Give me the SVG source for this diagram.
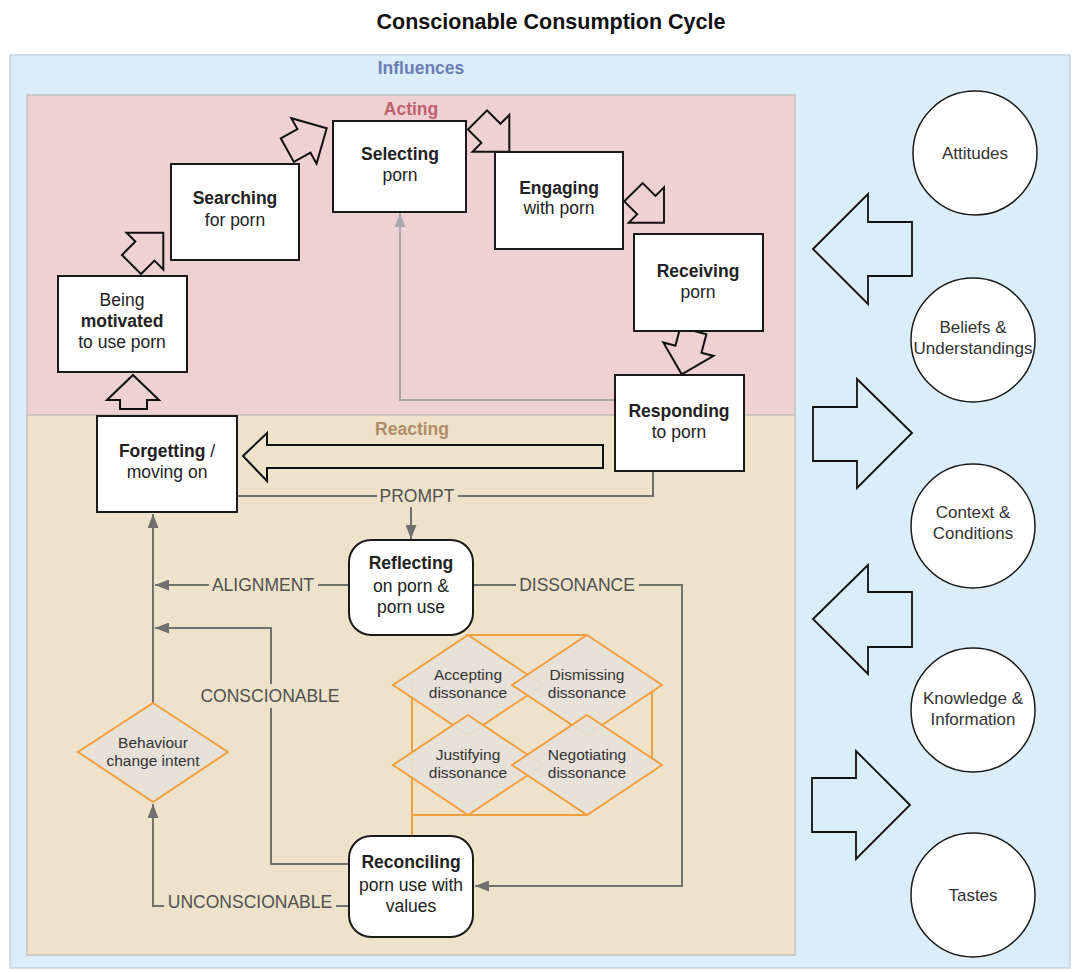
<svg xmlns="http://www.w3.org/2000/svg" xmlns:xlink="http://www.w3.org/1999/xlink" width="1075" height="972" viewBox="0 0 1075 972">
<style>
text{font-family:"Liberation Sans",Arial,sans-serif;}
.t{font-size:17.5px;fill:#222;text-anchor:middle;}
.b{font-weight:bold;}
.lbl{font-size:17.5px;fill:#505050;text-anchor:middle;}
.dt{font-size:15.5px;fill:#333;text-anchor:middle;}
.ct{font-size:17px;fill:#333;text-anchor:middle;}
.node{fill:#fff;stroke:#1a1a1a;stroke-width:2;}
.dia{fill:#e6e1d8;fill-opacity:0.9;stroke:#f0a040;stroke-width:2;}
.con{fill:none;stroke:#707070;stroke-width:2;}
.light{fill:none;stroke:#a8a8a8;stroke-width:2;}
.org{fill:none;stroke:#f0a040;stroke-width:2;}
.blk{fill:none;stroke:#111;stroke-width:2;stroke-linejoin:miter;}
.circ{fill:#fff;stroke:#1a1a1a;stroke-width:1.5;}
</style>
<defs>
<marker id="ah" viewBox="0 0 14 11" refX="14" refY="5.5" markerWidth="14" markerHeight="11" markerUnits="userSpaceOnUse" orient="auto"><path d="M0,0 L14,5.5 L0,11 Z" fill="#707070"/></marker>
<marker id="ahl" viewBox="0 0 14 11" refX="14" refY="5.5" markerWidth="14" markerHeight="11" markerUnits="userSpaceOnUse" orient="auto"><path d="M0,0 L14,5.5 L0,11 Z" fill="#a8a8a8"/></marker>
<path id="barrow" d="M0,0 L-26,-26 L-26,-13.5 L-45,-13.5 L-45,13.5 L-26,13.5 L-26,26 Z"/>
</defs>

<text x="551" y="29" style="font-size:21.5px;font-weight:bold;fill:#111;text-anchor:middle;">Conscionable Consumption Cycle</text>

<g id="influences">
<rect x="10" y="55" width="1060" height="913" fill="#dbedf8" stroke="#c9d3dc" stroke-width="1.5"/>
<text x="421" y="74" style="font-size:17.5px;font-weight:bold;fill:#6a7db5;text-anchor:middle;">Influences</text>
</g>
<g id="acting">
<rect x="27" y="95" width="768" height="320" fill="#efd0d3" stroke="#c8c0c0" stroke-width="1.5"/>
<text x="411" y="115" style="font-size:17.5px;font-weight:bold;fill:#c0606c;text-anchor:middle;">Acting</text>
</g>
<g id="reacting">
<rect x="27" y="415" width="768" height="540" fill="#efe2cb" stroke="#c8c0b8" stroke-width="1.5"/>
<text x="412" y="435" style="font-size:17.5px;font-weight:bold;fill:#b08c6a;text-anchor:middle;">Reacting</text>
</g>

<g id="connectors">
<path class="light" d="M615,400 H400 V213" marker-end="url(#ahl)"/>
<path class="con" d="M653,471 V496 H458 M377,496 H237"/>
<path class="con" d="M411,507 V539" marker-end="url(#ah)"/>
<path class="con" d="M349,585 H318 M209,585 H155" marker-end="url(#ah)"/>
<path class="con" d="M153,703 V514" marker-end="url(#ah)"/>
<path class="con" d="M349,864 H271 V708"/>
<path class="con" d="M271,684 V628 H155" marker-end="url(#ah)"/>
<path class="con" d="M349,906 H336 M164,906 H153 V804" marker-end="url(#ah)"/>
<path class="con" d="M473,585 H516 M639,585 H682 V886 H475" marker-end="url(#ah)"/>
<path class="org" d="M466,635 H588 M412,685 V836 M412,815 H588 M652,685 V765"/>
<text class="lbl" x="417" y="502">PROMPT</text>
<text class="lbl" x="263" y="591">ALIGNMENT</text>
<text class="lbl" x="577" y="591">DISSONANCE</text>
<text class="lbl" x="270" y="702">CONSCIONABLE</text>
<text class="lbl" x="250" y="908">UNCONSCIONABLE</text>
</g>

<g id="flow-arrows">
<polygon class="blk" points="133,375 159,400 147,400 147,409 120,409 120,400 107,400"/>
<use href="#barrow" class="blk" transform="translate(163.3,232.7) rotate(-45)"/>
<use href="#barrow" class="blk" transform="translate(326.7,128.3) rotate(-29)"/>
<use href="#barrow" class="blk" transform="translate(509.3,151.7) rotate(45)"/>
<use href="#barrow" class="blk" transform="translate(664,222.7) rotate(45) scale(0.96)"/>
<use href="#barrow" class="blk" transform="translate(681.7,374.3) rotate(105)"/>
<polygon class="blk" points="243,456 267,433 267,445 603,445 603,468 267,468 267,481"/>
</g>

<g id="influence-arrows">
<polygon class="blk" style="stroke-width:1.8" points="813,249 868,194 868,222 912,222 912,276 868,276 868,304"/>
<polygon class="blk" style="stroke-width:1.8" points="912,433 857,379 857,407 813,407 813,461 857,461 857,488"/>
<polygon class="blk" style="stroke-width:1.8" points="813,619 868,565 868,592 912,592 912,647 868,647 868,674"/>
<polygon class="blk" style="stroke-width:1.8" points="910,805 856,751 856,778 812,778 812,832 856,832 856,859"/>
</g>

<g id="motivated"><rect class="node" x="58" y="276" width="129" height="96"/>
<text class="t" x="122" y="306">Being</text><text class="t b" x="122" y="327">motivated</text><text class="t" x="122" y="348">to use porn</text></g>
<g id="searching"><rect class="node" x="171" y="164" width="128" height="96"/>
<text class="t b" x="235" y="204">Searching</text><text class="t" x="235" y="226">for porn</text></g>
<g id="selecting"><rect class="node" x="333" y="121" width="133" height="91"/>
<text class="t b" x="400" y="160">Selecting</text><text class="t" x="400" y="181">porn</text></g>
<g id="engaging"><rect class="node" x="495" y="152" width="128" height="97"/>
<text class="t b" x="559" y="193.5">Engaging</text><text class="t" x="559" y="214">with porn</text></g>
<g id="receiving"><rect class="node" x="634" y="234" width="129" height="97"/>
<text class="t b" x="698" y="277">Receiving</text><text class="t" x="698" y="297.5">porn</text></g>
<g id="responding"><rect class="node" x="615" y="375" width="129" height="96"/>
<text class="t b" x="679" y="416.5">Responding</text><text class="t" x="679" y="437.5">to porn</text></g>
<g id="forgetting"><rect class="node" x="97" y="416" width="140" height="96"/>
<text class="t" x="167" y="457"><tspan class="b">Forgetting</tspan> /</text><text class="t" x="167" y="477.5">moving on</text></g>
<g id="reflecting"><rect class="node" x="349" y="540" width="124" height="95" rx="22"/>
<text class="t b" x="411" y="569">Reflecting</text><text class="t" x="411" y="591.5">on porn &amp;</text><text class="t" x="411" y="612.5">porn use</text></g>
<g id="reconciling"><rect class="node" x="349" y="836" width="124" height="101" rx="22"/>
<text class="t b" x="411" y="867.5">Reconciling</text><text class="t" x="411" y="891">porn use with</text><text class="t" x="411" y="912">values</text></g>

<g id="behaviour"><polygon class="dia" points="153,703 228,752 153,802 78,752"/>
<text class="dt" x="153" y="748">Behaviour</text><text class="dt" x="153" y="766">change intent</text></g>
<g id="accepting"><polygon class="dia" points="468,635 543,685 468,735 393,685"/>
<text class="dt" x="468" y="680">Accepting</text><text class="dt" x="468" y="698">dissonance</text></g>
<g id="dismissing"><polygon class="dia" points="587,635 662,685 587,735 512,685"/>
<text class="dt" x="587" y="680">Dismissing</text><text class="dt" x="587" y="698">dissonance</text></g>
<g id="justifying"><polygon class="dia" points="468,715 543,765 468,815 393,765"/>
<text class="dt" x="468" y="760">Justifying</text><text class="dt" x="468" y="778">dissonance</text></g>
<g id="negotiating"><polygon class="dia" points="587,715 662,765 587,815 512,765"/>
<text class="dt" x="587" y="760">Negotiating</text><text class="dt" x="587" y="778">dissonance</text></g>

<g id="attitudes"><circle class="circ" cx="975" cy="153" r="62"/><text class="ct" x="975" y="159">Attitudes</text></g>
<g id="beliefs"><circle class="circ" cx="973" cy="340" r="62"/><text class="ct" x="973" y="333">Beliefs &amp;</text><text class="ct" x="973" y="354">Understandings</text></g>
<g id="context"><circle class="circ" cx="973" cy="526" r="62"/><text class="ct" x="973" y="518">Context &amp;</text><text class="ct" x="973" y="539">Conditions</text></g>
<g id="knowledge"><circle class="circ" cx="973" cy="710" r="62"/><text class="ct" x="973" y="704">Knowledge &amp;</text><text class="ct" x="973" y="725">Information</text></g>
<g id="tastes"><circle class="circ" cx="973" cy="895" r="62"/><text class="ct" x="973" y="901">Tastes</text></g>
</svg>
